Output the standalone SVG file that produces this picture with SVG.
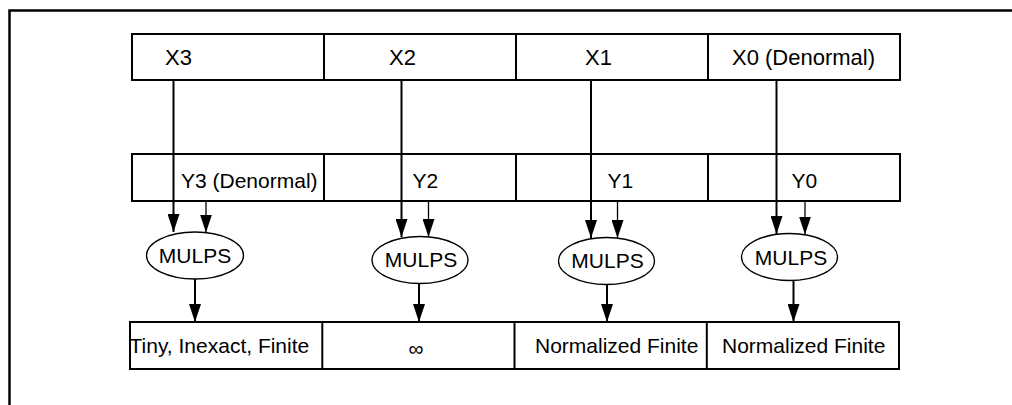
<svg xmlns="http://www.w3.org/2000/svg" width="1012" height="405" viewBox="0 0 1012 405">
<style>
.box{fill:#fff;stroke:#000;stroke-width:2}
.div{stroke:#000;stroke-width:2}
.ell{fill:#fff;stroke:#000;stroke-width:1.3}
.t{font-family:"Liberation Sans",Arial,sans-serif;font-size:21px;fill:#000}
.tx{font-family:"Liberation Sans",Arial,sans-serif;font-size:22px;fill:#000}
.m{text-anchor:middle}
.lw{stroke:#000;stroke-width:2;fill:none}
.ln{stroke:#000;stroke-width:1.3;fill:none}
</style>
<defs>
<marker id="ah" markerUnits="userSpaceOnUse" markerWidth="18" markerHeight="12" refX="18" refY="6" orient="auto">
<path d="M0,0 L18,6 L0,12 z" fill="#000"/>
</marker>
</defs>
<rect width="1012" height="405" fill="#fff"/>
<g id="frame"><path d="M9.5,420 V10.5 H1030" fill="none" stroke="#000" stroke-width="2.5"/></g>

<g id="xrow">
<rect class="box" x="132" y="34" width="768" height="46"/>
<line class="div" x1="324" y1="34" x2="324" y2="80"/>
<line class="div" x1="516" y1="34" x2="516" y2="80"/>
<line class="div" x1="708" y1="34" x2="708" y2="80"/>
<text class="tx" x="165" y="65">X3</text>
<text class="tx" x="389" y="65">X2</text>
<text class="tx" x="585" y="65">X1</text>
<text class="tx" x="732" y="65">X0 (Denormal)</text>
</g>

<g id="yrow">
<rect class="box" x="132" y="154" width="768" height="47"/>
<line class="div" x1="324" y1="154" x2="324" y2="201"/>
<line class="div" x1="516" y1="154" x2="516" y2="201"/>
<line class="div" x1="708" y1="154" x2="708" y2="201"/>
<text class="t" x="181" y="188">Y3 (Denormal)</text>
<text class="t" x="412.5" y="188">Y2</text>
<text class="t" x="607.5" y="188">Y1</text>
<text class="t" x="791.5" y="188">Y0</text>
</g>

<g id="mulps3"><ellipse class="ell" cx="195" cy="255.5" rx="48.5" ry="23.5"/><text class="t m" x="195" y="263">MULPS</text></g>
<g id="mulps2"><ellipse class="ell" cx="420" cy="260" rx="48" ry="23.5"/><text class="t m" x="421" y="267">MULPS</text></g>
<g id="mulps1"><ellipse class="ell" cx="606.5" cy="261" rx="48" ry="23.5"/><text class="t m" x="607.5" y="268">MULPS</text></g>
<g id="mulps0"><ellipse class="ell" cx="789.5" cy="257" rx="48" ry="23.5"/><text class="t m" x="791" y="264.5">MULPS</text></g>

<g id="outrow">
<rect class="box" x="130" y="322" width="769" height="47"/>
<line class="div" x1="322.3" y1="322" x2="322.3" y2="369"/>
<line class="div" x1="514.5" y1="322" x2="514.5" y2="369"/>
<line class="div" x1="706.8" y1="322" x2="706.8" y2="369"/>
<text class="t" x="129.5" y="353">Tiny, Inexact, Finite</text>
<text class="t m" x="416" y="356">∞</text>
<text class="t" x="535" y="353">Normalized Finite</text>
<text class="t" x="722" y="353">Normalized Finite</text>
</g>

<g id="connectors">
<line class="lw" x1="173.5" y1="80" x2="173.5" y2="232" marker-end="url(#ah)"/>
<line class="lw" x1="401.5" y1="80" x2="401.5" y2="237" marker-end="url(#ah)"/>
<line class="lw" x1="591" y1="80" x2="591" y2="238" marker-end="url(#ah)"/>
<line class="lw" x1="776.5" y1="80" x2="776.5" y2="234" marker-end="url(#ah)"/>
<line class="ln" x1="206" y1="200" x2="206" y2="232.5" marker-end="url(#ah)"/>
<line class="ln" x1="428.5" y1="200" x2="428.5" y2="237" marker-end="url(#ah)"/>
<line class="ln" x1="617.5" y1="200" x2="617.5" y2="238" marker-end="url(#ah)"/>
<line class="ln" x1="805" y1="200" x2="805" y2="234.5" marker-end="url(#ah)"/>
<line class="lw" x1="195" y1="279" x2="195" y2="322" marker-end="url(#ah)"/>
<line class="lw" x1="419" y1="283.5" x2="419" y2="322" marker-end="url(#ah)"/>
<line class="lw" x1="607" y1="284.5" x2="607" y2="322" marker-end="url(#ah)"/>
<line class="lw" x1="793.5" y1="280.5" x2="793.5" y2="322" marker-end="url(#ah)"/>
</g>
</svg>
